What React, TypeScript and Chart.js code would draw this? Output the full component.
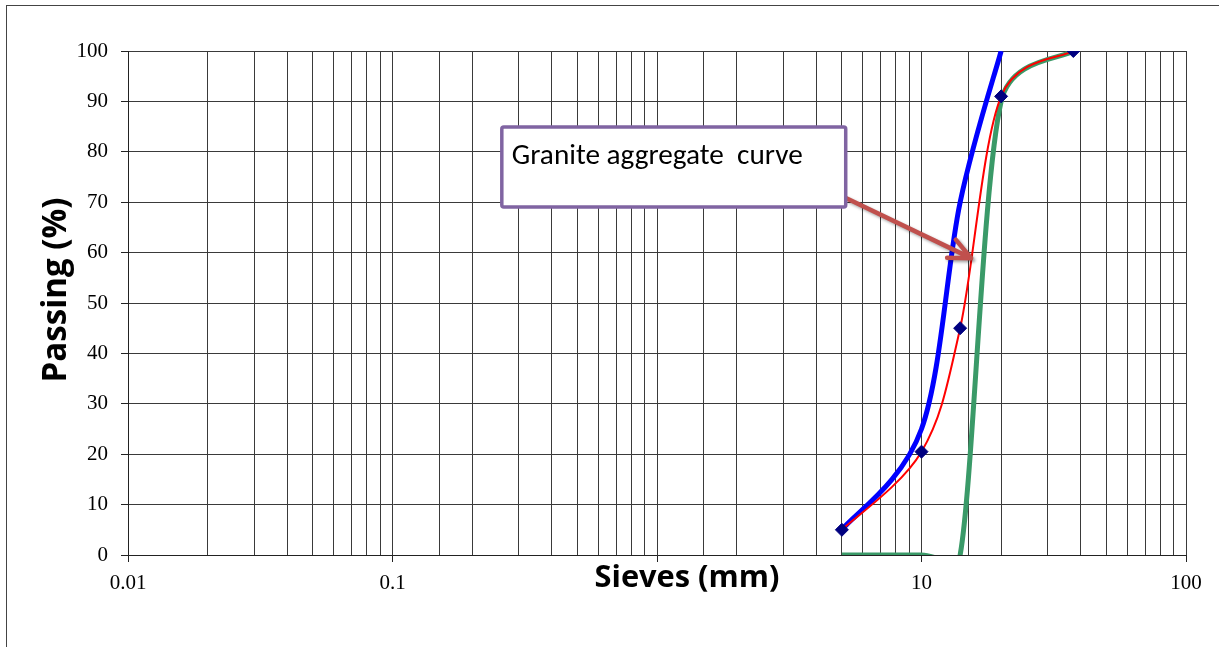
import React, { useEffect, useRef } from 'react';
import { Chart, registerables } from 'chart.js';

Chart.register(...registerables);

// ---------- data ----------
const sieveSizes = [5, 10, 14, 20, 37.5];
const granitePassing = [5, 20.5, 45, 91, 100];
const upperLimitSizes = [5, 10, 14, 20];
const upperLimitPassing = [5, 25, 70, 100];
const lowerLimitSizes = [5, 10, 14, 20, 37.5];
const lowerLimitPassing = [0, 0, 0, 90, 100];
const xTickValues = [0.01, 0.1, 1, 10, 100];
const xTickLabels = ['0.01', '0.1', '1', '10', '100'];
const yMin = 0;
const yMax = 100;
const yStep = 10;

const xTitle = 'Sieves (mm)';
const yTitle = 'Passing (%)';
const calloutText = 'Granite aggregate  curve';
// callout anchored in data coordinates
const calloutBox = { left: 0.259, right: 5.17, top: 84.9, bottom: 69.05 };
const arrowFrom = { x: 5.2, y: 70.8 };
const arrowTo = { x: 15.4, y: 58.9 };

const GRID = '#3a3a3a';
const AXIS = '#222222';
const SERIF = '"Liberation Serif", "Times New Roman", serif';
const TITLE_FONT = '"Comic Sans MS", "Open Sans", sans-serif';
const CALLOUT_FONT = '"Carlito", "Lato", sans-serif';

const isDecade = (v: number) =>
  v > 0 && Math.abs(Math.log10(v) - Math.round(Math.log10(v))) < 1e-6;

const xLabel = (v: number) => {
  for (let i = 0; i < xTickValues.length; i++) {
    if (Math.abs(v - xTickValues[i]) / xTickValues[i] < 1e-6) return xTickLabels[i];
  }
  return '';
};

const pts = (xs: number[], ys: number[]) => xs.map((x, i) => ({ x, y: ys[i] }));

// Excel-like smoothing: Catmull-Rom 1/6 tangents in pixel space,
// control offsets limited to half of the segment length
const excelSmooth = {
  id: 'excelSmooth',
  beforeDatasetDraw(chart: any, args: any) {
    const meta = args.meta;
    const line = meta.dataset;
    if (!line || !line.options || !line.options.tension) return;
    const p = meta.data;
    const n = p.length;
    if (typeof line.updateControlPoints === 'function') line.updateControlPoints(chart.chartArea, 'x');
    const seg = (i: number) => Math.hypot(p[i + 1].x - p[i].x, p[i + 1].y - p[i].y);
    for (let i = 0; i < n; i++) {
      const prev = p[Math.max(0, i - 1)];
      const next = p[Math.min(n - 1, i + 1)];
      const tx = (next.x - prev.x) / 6;
      const ty = (next.y - prev.y) / 6;
      const tl = Math.hypot(tx, ty) || 1;
      const sIn = i > 0 ? Math.min(1, seg(i - 1) / 2 / tl) : 1;
      const sOut = i < n - 1 ? Math.min(1, seg(i) / 2 / tl) : 1;
      p[i].cp1x = p[i].x - tx * sIn;
      p[i].cp1y = p[i].y - ty * sIn;
      p[i].cp2x = p[i].x + tx * sOut;
      p[i].cp2y = p[i].y + ty * sOut;
    }
    line._pointsUpdated = true;
    line._path = undefined;
  },
};

const fitSize = (ctx: CanvasRenderingContext2D, text: string, weight: string, family: string, target: number) => {
  ctx.font = `${weight} 20px ${family}`;
  const w = ctx.measureText(text).width;
  return (20 * target) / w;
};

const decorations = {
  id: 'decorations',
  afterDraw(chart: any) {
    const { ctx, chartArea, scales } = chart;
    const xs = scales.x;
    const ys = scales.y;
    ctx.save();

    // arrow
    const ax0 = xs.getPixelForValue(arrowFrom.x);
    const ay0 = ys.getPixelForValue(arrowFrom.y);
    const ax1 = xs.getPixelForValue(arrowTo.x);
    const ay1 = ys.getPixelForValue(arrowTo.y);
    const ang = Math.atan2(ay1 - ay0, ax1 - ax0);
    const barb = 24;
    const spread = 0.43;
    ctx.save();
    ctx.shadowColor = 'rgba(0,0,0,0.35)';
    ctx.shadowBlur = 3;
    ctx.shadowOffsetX = 2;
    ctx.shadowOffsetY = 2;
    ctx.strokeStyle = '#C0504D';
    ctx.lineWidth = 4.5;
    ctx.lineCap = 'round';
    ctx.lineJoin = 'round';
    ctx.beginPath();
    ctx.moveTo(ax0, ay0);
    ctx.lineTo(ax1, ay1);
    ctx.moveTo(ax1 - barb * Math.cos(ang - spread), ay1 - barb * Math.sin(ang - spread));
    ctx.lineTo(ax1, ay1);
    ctx.lineTo(ax1 - barb * Math.cos(ang + spread), ay1 - barb * Math.sin(ang + spread));
    ctx.stroke();
    ctx.restore();

    // callout box
    const bl = xs.getPixelForValue(calloutBox.left);
    const br = xs.getPixelForValue(calloutBox.right);
    const bt = ys.getPixelForValue(calloutBox.top);
    const bb = ys.getPixelForValue(calloutBox.bottom);
    ctx.beginPath();
    if (ctx.roundRect) ctx.roundRect(bl, bt, br - bl, bb - bt, 2);
    else ctx.rect(bl, bt, br - bl, bb - bt);
    ctx.fillStyle = '#ffffff';
    ctx.fill();
    ctx.lineWidth = 3.5;
    ctx.strokeStyle = '#8064A2';
    ctx.stroke();
    const cs = fitSize(ctx, calloutText, 'normal', CALLOUT_FONT, 291);
    ctx.font = `normal ${cs}px ${CALLOUT_FONT}`;
    ctx.fillStyle = '#000';
    ctx.textAlign = 'left';
    ctx.textBaseline = 'alphabetic';
    ctx.fillText(calloutText, bl + 10, bt + 37);

    // x axis title (white backing, hides the label beneath as in the original)
    const xs2 = fitSize(ctx, xTitle, 'bold', TITLE_FONT, 185);
    ctx.font = `bold ${xs2}px ${TITLE_FONT}`;
    const xcx = chartArea.left + 559;
    const xcy = chartArea.bottom + 23;
    const xw = ctx.measureText(xTitle).width;
    ctx.fillStyle = '#fff';
    ctx.fillRect(xcx - xw / 2 - 3, chartArea.bottom + 9, xw + 6, 30);
    ctx.fillStyle = '#000';
    ctx.textAlign = 'center';
    ctx.textBaseline = 'middle';
    ctx.fillText(xTitle, xcx, xcy);

    // y axis title
    const ys2 = fitSize(ctx, yTitle, 'bold', TITLE_FONT, 185);
    ctx.font = `bold ${ys2}px ${TITLE_FONT}`;
    ctx.translate(chartArea.left - 71, chartArea.top + 239);
    ctx.rotate(-Math.PI / 2);
    ctx.fillText(yTitle, 0, 0);
    ctx.restore();
  },
};

export default function App() {
  const ref = useRef<HTMLCanvasElement | null>(null);

  useEffect(() => {
    if (!ref.current) return;
    const chart = new Chart(ref.current, {
      type: 'line',
      data: {
        datasets: [
          {
            label: 'Granite aggregate',
            data: pts(sieveSizes, granitePassing),
            borderColor: '#FF0000',
            borderWidth: 2,
            tension: 0.4,
            pointStyle: 'rectRot',
            pointRadius: 6.5,
            pointBackgroundColor: '#000080',
            pointBorderColor: '#000080',
            pointBorderWidth: 1,
            fill: false,
          },
          {
            label: 'Upper limit',
            data: pts(upperLimitSizes, upperLimitPassing),
            borderColor: '#0000FF',
            borderWidth: 5,
            tension: 0.4,
            pointRadius: 0,
            fill: false,
          },
          {
            label: 'Lower limit',
            data: pts(lowerLimitSizes, lowerLimitPassing),
            borderColor: '#3A9A68',
            borderWidth: 5,
            tension: 0.4,
            pointRadius: 0,
            fill: false,
          },
        ],
      } as any,
      options: {
        responsive: false,
        animation: false,
        events: [],
        layout: { padding: { top: 51, right: 33, left: 0, bottom: 0 } },
        plugins: { legend: { display: false }, tooltip: { enabled: false }, title: { display: false } },
        scales: {
          x: {
            type: 'logarithmic',
            min: xTickValues[0],
            max: xTickValues[xTickValues.length - 1],
            afterFit: (s: any) => {
              s.height = 92;
            },
            grid: {
              color: GRID,
              lineWidth: 1,
              drawTicks: true,
              tickLength: 7,
              tickColor: (c: any) => (c.tick && isDecade(c.tick.value) ? AXIS : 'rgba(0,0,0,0)'),
            },
            border: { color: AXIS, width: 1 },
            ticks: {
              autoSkip: false,
              maxRotation: 0,
              minRotation: 0,
              padding: 9,
              color: '#000',
              font: { family: SERIF, size: 21 },
              callback: (v: any) => xLabel(Number(v)),
            },
          },
          y: {
            type: 'linear',
            min: yMin,
            max: yMax,
            afterFit: (s: any) => {
              s.width = 128;
            },
            grid: { color: GRID, lineWidth: 1, drawTicks: true, tickLength: 7, tickColor: AXIS },
            border: { color: AXIS, width: 1 },
            ticks: {
              stepSize: yStep,
              padding: 13,
              color: '#000',
              font: { family: SERIF, size: 21 },
            },
          },
        },
      } as any,
      plugins: [excelSmooth, decorations],
    });
    return () => chart.destroy();
  }, []);

  return (
    <div style={{ position: 'absolute', left: 0, top: 0, width: 1219, height: 647, overflow: 'hidden', background: '#fff' }}>
      <div
        style={{
          position: 'absolute',
          left: 6,
          top: 5,
          right: 0,
          bottom: 0,
          borderLeft: '1px solid #444',
          borderTop: '1px solid #444',
        }}
      />
      <canvas ref={ref} width={1219} height={647} style={{ position: 'absolute', left: 0, top: 0, display: 'block' }} />
    </div>
  );
}
